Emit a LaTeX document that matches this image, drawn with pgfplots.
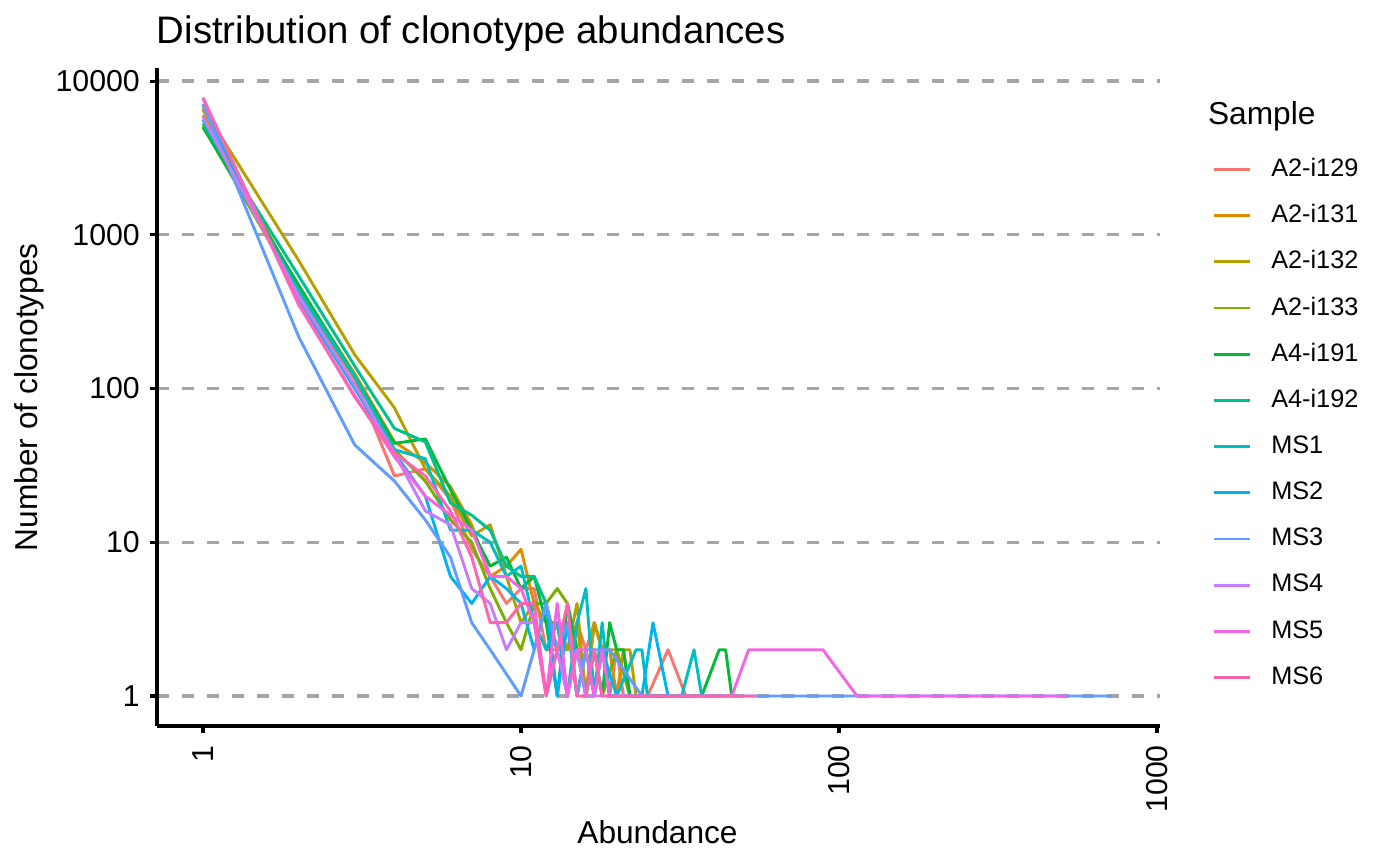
\documentclass[border=0pt]{standalone}
\usepackage{fontspec}
\setmainfont{Liberation Sans}
\usepackage{pgfplots}
\pgfplotsset{compat=1.18}
\definecolor{c1}{HTML}{F8766D}
\definecolor{c2}{HTML}{DE8C00}
\definecolor{c3}{HTML}{B79F00}
\definecolor{c4}{HTML}{7CAE00}
\definecolor{c5}{HTML}{00BA38}
\definecolor{c6}{HTML}{00C08B}
\definecolor{c7}{HTML}{00BFC4}
\definecolor{c8}{HTML}{00B4F0}
\definecolor{c9}{HTML}{619CFF}
\definecolor{c10}{HTML}{C77CFF}
\definecolor{c11}{HTML}{F564E3}
\definecolor{c12}{HTML}{FF64B0}
\definecolor{gridgray}{RGB}{165,165,165}
\begin{document}
\begin{tikzpicture}
\path[use as bounding box] (0,0) rectangle (504pt,311.76pt);
\begin{axis}[
  at={(56.52pt,50.4pt)}, anchor=south west,
  width=361.08pt, height=237pt, scale only axis,
  xmode=log, ymode=log,
  xmin=0.7167, xmax=1022, ymin=0.6382, ymax=12220,
  axis x line*=bottom, axis y line*=left,
  axis line style={-, black, line width=1.1pt},
  xtick={1,10,100,1000}, xticklabels={1,10,100,1000},
  ytick={1,10,100,1000,10000}, yticklabels={1,10,100,1000,10000},
  xminorticks=false, yminorticks=false,
  tick align=outside, major tick length=2.5pt,
  tick style={black, line width=1.1pt},
  ymajorgrids,
  major grid style={gridgray, line width=1.15pt, dash pattern=on 4.3pt off 4.7pt},
  xticklabel style={rotate=90, anchor=east, inner sep=0pt, font=\fontsize{10.9}{12}\selectfont},
  yticklabel style={anchor=east, inner sep=0pt, font=\fontsize{10.9}{12}\selectfont},
  xticklabel shift=4.2pt, yticklabel shift=3.5pt,
  every axis plot/.append style={line width=1.05pt, line join=round, mark=none},
  legend cell align=left,
  legend style={at={(1.0521,0.8805)}, anchor=north west, draw=none, fill=none,
    inner sep=0pt, outer sep=0pt, row sep=0pt, column sep=7.0pt,
    nodes={inner sep=0pt, minimum height=16.63pt, anchor=west},
    font=\fontsize{9.1}{11}\selectfont},
  legend image code/.code={\draw[#1, line width=1.05pt] (0pt,0pt) -- (13.2pt,0pt);},
]
\addplot[c1] coordinates {(1,6500)(2,420)(3,115)(4,27)(5,30)(6,19)(7,9)(8,6)(9,4)(10,5)(11,5)(12,2)(13,2)(14,1)(15,3)(16,2)(17,3)(18,2)(19,1)(20,2)(21,1)(22,1)(25,1)(29,2)(33,1)(40,1)(46,1)};
\addlegendentry{A2-i129}
\addplot[c2] coordinates {(1,6000)(2,450)(3,125)(4,45)(5,33)(6,23)(7,13)(8,6)(9,7)(10,9)(11,4)(12,3)(13,2)(14,2)(15,3)(16,1)(17,3)(18,2)(19,2)(20,1)(21,2)(22,1)(24,1)(28,1)(35,1)};
\addlegendentry{A2-i131}
\addplot[c3] coordinates {(1,6700)(2,680)(3,166)(4,75)(5,30)(6,20)(7,11)(8,13)(9,6)(10,3)(11,4)(12,3)(13,3)(14,2)(15,4)(16,1)(17,3)(18,2)(19,2)(20,2)(21,2)(22,2)(23,1)(30,1)};
\addlegendentry{A2-i132}
\addplot[c4] coordinates {(1,5100)(2,420)(3,118)(4,40)(5,25)(6,14)(7,10)(8,5)(9,3)(10,2)(11,4)(12,4)(13,5)(14,4)(15,2)(16,1)(17,2)(18,1)(20,2)(22,1)(26,1)};
\addlegendentry{A2-i133}
\addplot[c5] coordinates {(1,5000)(2,470)(3,120)(4,44)(5,47)(6,22)(7,12)(8,7)(9,8)(10,5)(11,6)(12,3)(13,1)(14,4)(15,2)(16,1)(17,2)(18,1)(19,3)(20,2)(21,2)(22,1)(24,1)(30,1)(37,1)(42,2)(44,2)(46,1)};
\addlegendentry{A4-i191}
\addplot[c6] coordinates {(1,5300)(2,540)(3,140)(4,55)(5,45)(6,18)(7,15)(8,12)(9,7)(10,6)(11,6)(12,4)(13,2)(14,3)(15,1)(16,2)(17,1)(18,2)(19,1)(21,1)(26,1)};
\addlegendentry{A4-i192}
\addplot[c7] coordinates {(1,5600)(2,430)(3,120)(4,40)(5,35)(6,12)(7,12)(8,10)(9,6)(10,7)(11,3)(12,2)(13,3)(14,1)(15,3)(16,5)(17,1)(18,3)(19,1)(20,1)(23,2)(24,2)(25,1)(28,1)(32,1)(35,2)(37,1)(45,1)};
\addlegendentry{MS1}
\addplot[c8] coordinates {(1,7000)(2,380)(3,100)(4,38)(5,20)(6,6)(7,4)(8,6)(9,5)(10,4)(11,2)(12,4)(13,1)(14,3)(15,1)(16,2)(17,1)(18,2)(20,1)(22,1)(24,1)(26,3)(29,1)(34,1)};
\addlegendentry{MS2}
\addplot[c9] coordinates {(1,7100)(2,217)(3,43)(4,25)(5,14)(6,8)(7,3)(8,2)(10,1)(11,2)(12,4)(13,2)(14,3)(15,1)(16,2)(17,2)(18,2)(19,2)(24,1)(55,1)(100,1)(300,1)(720,1)};
\addlegendentry{MS3}
\addplot[c10] coordinates {(1,5800)(2,400)(3,105)(4,38)(5,16)(6,13)(7,5)(8,4)(9,2)(10,3)(11,3)(12,1)(13,2)(14,1)(15,2)(16,1)(17,1)(20,1)(25,1)};
\addlegendentry{MS4}
\addplot[c11] coordinates {(1,7800)(2,350)(3,90)(4,36)(5,20)(6,15)(7,12)(8,6)(9,6)(10,5)(11,3)(12,1)(13,4)(14,1)(15,2)(16,2)(17,1)(18,2)(19,1)(21,1)(30,1)(46,1)(52,2)(89,2)(114,1)(520,1)};
\addlegendentry{MS5}
\addplot[c12] coordinates {(1,7700)(2,360)(3,88)(4,38)(5,27)(6,16)(7,8)(8,3)(9,3)(10,4)(11,4)(12,1)(13,2)(14,4)(15,1)(16,1)(17,2)(18,1)(20,1)(25,1)(40,1)(55,1)};
\addlegendentry{MS6}
\end{axis}
\node[anchor=base west, inner sep=0pt, font=\fontsize{13.8}{16}\selectfont] at (56.3pt,296.2pt) {Distribution of clonotype abundances};
\node[anchor=base, inner sep=0pt, font=\fontsize{11.4}{14}\selectfont] at (236.7pt,8.17pt) {Abundance};
\node[anchor=base, rotate=90, inner sep=0pt, font=\fontsize{11.4}{14}\selectfont] at (13.4pt,168.8pt) {Number of clonotypes};
\node[anchor=base west, inner sep=0pt, font=\fontsize{11.4}{14}\selectfont] at (434.7pt,266.8pt) {Sample};
\end{tikzpicture}
\end{document}
